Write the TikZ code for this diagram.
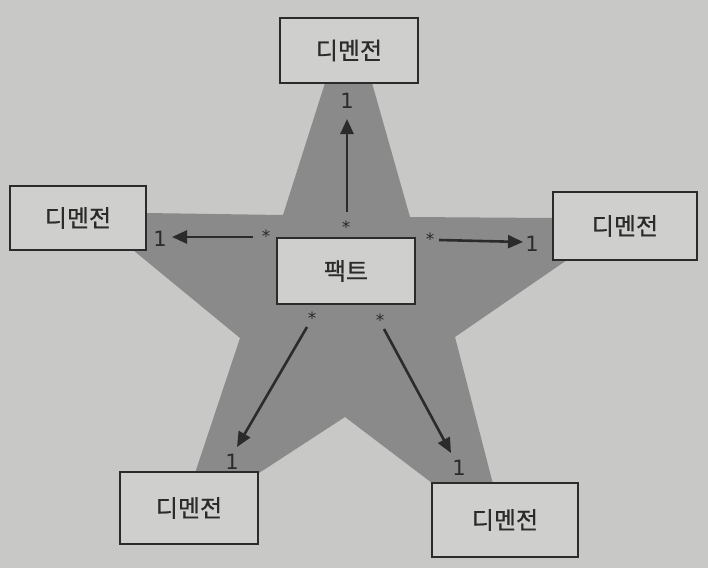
\documentclass[tikz,border=0pt]{standalone}
\usepackage{fontspec}
\newfontfamily\kr[FakeBold=0.8]{Noto Sans CJK KR}
\newfontfamily\dv{DejaVu Sans}
\usetikzlibrary{arrows.meta}
\definecolor{pagebg}{HTML}{C8C8C6}
\definecolor{starfill}{HTML}{8A8A8A}
\definecolor{boxfill}{HTML}{CFCFCD}
\definecolor{ink}{HTML}{2B2B2B}
\begin{document}
\begin{tikzpicture}[x=1pt,y=-1pt,
  entity/.style={draw=ink, line width=2pt, fill=boxfill, inner sep=0pt,
    text=ink, font=\kr\fontsize{24}{28}\selectfont},
  link/.style={draw=ink, line width=2.6pt, -{Triangle[length=15pt,width=13pt]}},
  one/.style={text=ink, font=\dv\fontsize{21}{24}\selectfont, inner sep=0pt},
  many/.style={text=ink, font=\dv\fontsize{17}{20}\selectfont, inner sep=0pt}]
% page
\fill[pagebg] (0,0) rectangle (708,568);
\useasboundingbox (0,0) rectangle (708,568);
% star
\fill[starfill] (283,215) -- (325,83) -- (330,50) -- (370,50) -- (372,83)
  -- (410,217) -- (553,218) -- (600,218) -- (600,240) -- (567,260)
  -- (455,337) -- (493,484) -- (500,520) -- (440,520) -- (432,483)
  -- (345,417) -- (259,473) -- (250,510) -- (200,510) -- (195,473)
  -- (240,338) -- (133,250) -- (100,235) -- (100,213) -- (146,213) -- cycle;
% boxes
\node[entity, minimum width=138pt, minimum height=65pt] (top) at (349,50.5) {디멘전};
\node[entity, minimum width=136pt, minimum height=64pt] (left) at (78,218) {디멘전};
\node[entity, minimum width=144pt, minimum height=68pt] (right) at (625,226) {디멘전};
\node[entity, minimum width=138pt, minimum height=66pt] (fact) at (346,271) {팩트};
\node[entity, minimum width=138pt, minimum height=72pt] (bl) at (189,508) {디멘전};
\node[entity, minimum width=146pt, minimum height=74pt] (br) at (505,520) {디멘전};
% arrow ends
\coordinate (tS) at (347,212); \coordinate (tE) at (347,119);
\coordinate (lS) at (253,237); \coordinate (lE) at (172,237);
\coordinate (rS) at (439,240); \coordinate (rE) at (523,242);
\coordinate (blS) at (307,327); \coordinate (blE) at (237,447);
\coordinate (brS) at (384,329); \coordinate (brE) at (451,453);
\draw[link] (tS) -- (tE);
\draw[link] (lS) -- (lE);
\draw[link] (rS) -- (rE);
\draw[link] (blS) -- (blE);
\draw[link] (brS) -- (brE);
% multiplicities
\node[one] (t1) at (347,101) {1};
\node[many] (ts) at (346,227) {*};
\node[one] (l1) at (160,239) {1};
\node[many] (ls) at (266,236) {*};
\node[one] (r1) at (532,244) {1};
\node[many] (rs) at (430,239) {*};
\node[one] (bl1) at (232,462) {1};
\node[many] (bls) at (312,318) {*};
\node[one] (br1) at (459,468) {1};
\node[many] (brs) at (380,320) {*};
\end{tikzpicture}
\end{document}
